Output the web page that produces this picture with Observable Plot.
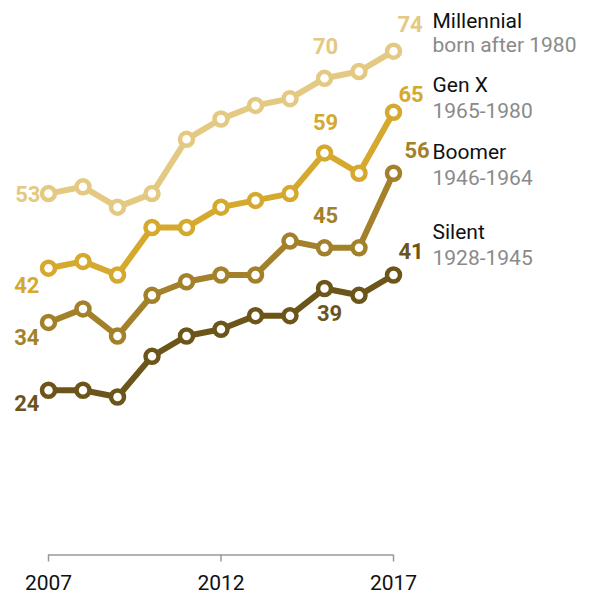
<!DOCTYPE html>
<html>
<head>
<meta charset="utf-8">
<script src="https://cdn.jsdelivr.net/npm/d3@7"></script>
<script src="https://cdn.jsdelivr.net/npm/@observablehq/plot@0.6"></script>
<style>
  html, body { margin: 0; padding: 0; background: #fff; }
</style>
</head>
<body>
<div id="chart"></div>
<script>
const years = [2007, 2008, 2009, 2010, 2011, 2012, 2013, 2014, 2015, 2016, 2017];
const millennial = [53, 54, 51, 53, 61, 64, 66, 67, 70, 71, 74];
const genX = [42, 43, 41, 48, 48, 51, 52, 53, 59, 56, 65];
const boomer = [34, 36, 32, 38, 40, 41, 41, 46, 45, 45, 56];
const silent = [24, 24, 23, 29, 32, 33, 35, 35, 39, 38, 41];

const seriesNames = ["Millennial", "Gen X", "Boomer", "Silent"];
const seriesSubs = ["born after 1980", "1965-1980", "1946-1964", "1928-1945"];
const seriesValues = [millennial, genX, boomer, silent];
const seriesColors = ["#e3c982", "#d5a92e", "#a3812a", "#6b5519"];
const xTicks = [2007, 2012, 2017];

const data = seriesNames.flatMap((s, i) =>
  years.map((y, j) => ({ series: s, year: y, value: seriesValues[i][j] }))
);
const pick = (s, y) => data.filter(d => d.series === s && d.year === y);

const valueLabel = (s, y, opts) => Plot.text(pick(s, y), {
  x: "year", y: "value", text: d => String(d.value), fill: "series",
  fontWeight: "bold", fontSize: 22, ...opts
});
const nameLabel = (i, dyName, dySub) => {
  const d = pick(seriesNames[i], 2017).map(r => ({ ...r, sub: seriesSubs[i] }));
  return [
    Plot.text(d, { x: "year", y: "value", text: "series", fill: "#111", textAnchor: "start", dx: 39, dy: dyName, fontSize: 21 }),
    Plot.text(d, { x: "year", y: "value", text: "sub", fill: "#8a8a8a", textAnchor: "start", dx: 39, dy: dySub, fontSize: 21 })
  ];
};

const chart = Plot.plot({
  width: 603,
  height: 594,
  marginLeft: 48,
  marginRight: 210,
  marginTop: 10,
  marginBottom: 41.5,
  style: { fontFamily: "Roboto, 'Liberation Sans', sans-serif", fontSize: "21px", background: "#fff" },
  x: { domain: [2007, 2017] },
  y: { domain: [0, 80], axis: null },
  color: { domain: seriesNames, range: seriesColors },
  marks: [
    Plot.ruleY([0], { stroke: "#999", strokeWidth: 1.5, dy: 2, x1: 2007, x2: 2017 }),
    Plot.axisX({ ticks: xTicks, tickFormat: "d", tickSize: 7, tickPadding: 13, dy: 2, stroke: "#999", strokeWidth: 1.5, strokeOpacity: 1, fill: "#111", fontSize: 21, label: null }),
    Plot.line(data, { x: "year", y: "value", z: "series", stroke: "series", strokeWidth: 6, strokeLinejoin: "round" }),
    Plot.dot(data, { x: "year", y: "value", stroke: "series", fill: "#fff", r: 6.5, strokeWidth: 4.5 }),
    valueLabel("Millennial", 2007, { textAnchor: "end", dx: -8, dy: 1 }),
    valueLabel("Millennial", 2015, { textAnchor: "middle", dx: 1, dy: -31 }),
    valueLabel("Millennial", 2017, { textAnchor: "start", dx: 4, dy: -26.5 }),
    valueLabel("Gen X", 2007, { textAnchor: "end", dx: -9, dy: 17.5 }),
    valueLabel("Gen X", 2015, { textAnchor: "middle", dx: 1, dy: -30 }),
    valueLabel("Gen X", 2017, { textAnchor: "start", dx: 5, dy: -17 }),
    valueLabel("Boomer", 2007, { textAnchor: "end", dx: -9, dy: 16 }),
    valueLabel("Boomer", 2015, { textAnchor: "middle", dx: 1, dy: -32 }),
    valueLabel("Boomer", 2017, { textAnchor: "start", dx: 11, dy: -22.7 }),
    valueLabel("Silent", 2007, { textAnchor: "end", dx: -9, dy: 14 }),
    valueLabel("Silent", 2015, { textAnchor: "middle", dx: 5, dy: 25 }),
    valueLabel("Silent", 2017, { textAnchor: "start", dx: 5, dy: -23.5 }),
    ...nameLabel(0, -30.2, -5.5),
    ...nameLabel(1, -27, -1),
    ...nameLabel(2, -20.8, 5.5),
    ...nameLabel(3, -43, -16.5)
  ]
});
document.getElementById("chart").appendChild(chart);
</script>
</body>
</html>
